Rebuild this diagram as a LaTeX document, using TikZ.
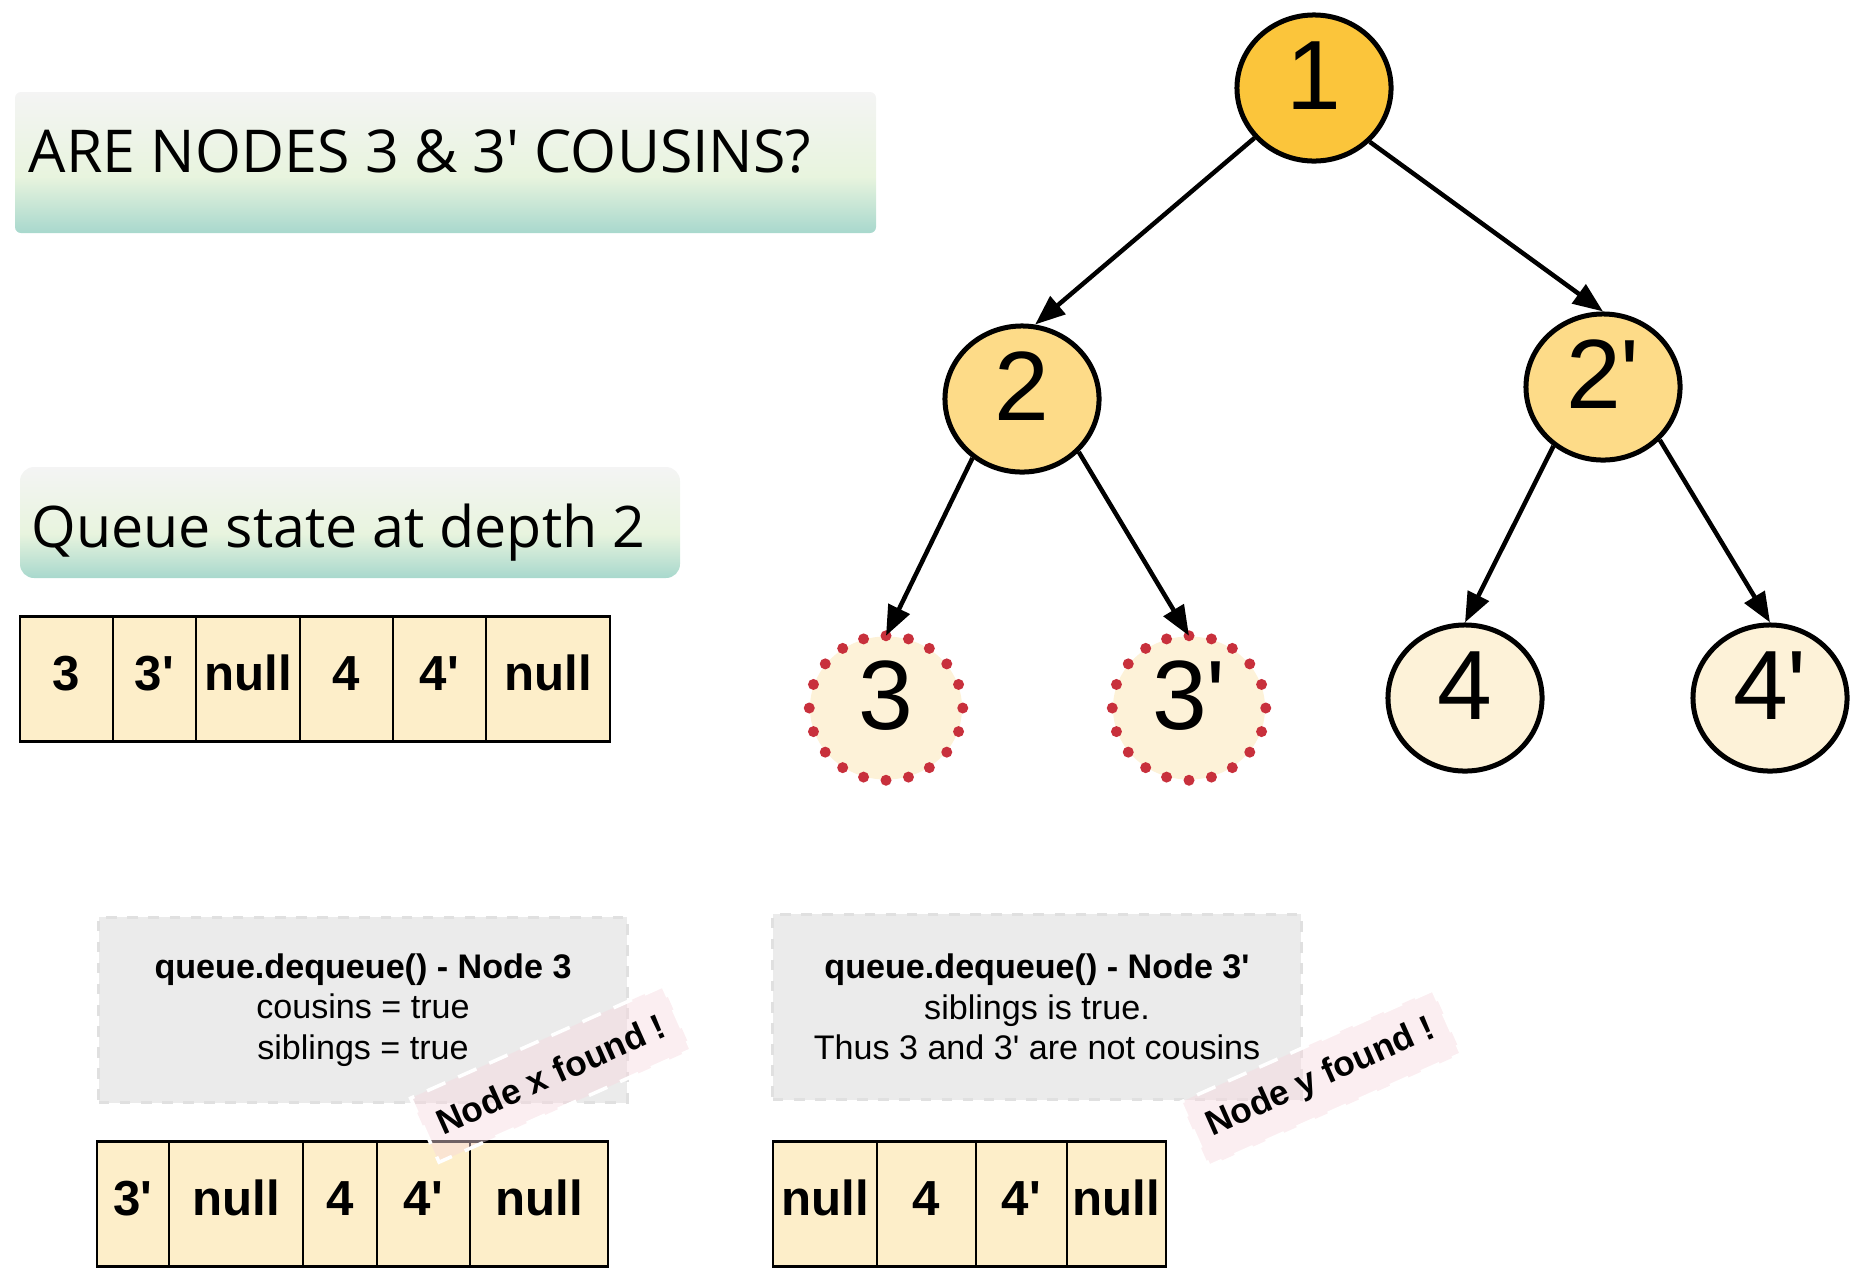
\documentclass[tikz,border=0pt]{standalone}
\usepackage{fontspec}
\newfontfamily\arialfont{Liberation Sans}
\newfontfamily\headfont{Open Sans}
\usepackage{xcolor}
\usetikzlibrary{shapes.geometric, arrows.meta}
\newcommand{\ap}{\textquotesingle}
\definecolor{rootfill}{HTML}{FBC53B}
\definecolor{midfill}{HTML}{FDDB88}
\definecolor{leaffill}{HTML}{FDF2D8}
\definecolor{cellfill}{HTML}{FDEEC9}
\definecolor{dotred}{HTML}{C8303C}
\definecolor{boxgray}{HTML}{EBEBEB}
\definecolor{tagpink}{HTML}{F7D9DF}
\definecolor{headtop}{HTML}{F4F4F4}
\definecolor{headmid}{HTML}{E8F4DE}
\definecolor{headbot}{HTML}{A8D8CD}
\pgfdeclareverticalshading{headshade}{100bp}{color(0bp)=(headbot); color(25bp)=(headbot);
  color(45bp)=(headmid); color(75bp)=(headtop); color(100bp)=(headtop)}

\begin{document}
\begin{tikzpicture}[x=0.01cm, y=-0.01cm, >={Triangle[length=0.3cm, width=0.23cm]},
  tnode/.style={ellipse, draw, line width=0.05cm, minimum width=1.54cm, minimum height=1.46cm,
    inner sep=0pt, text height=0.71cm, text depth=0.29cm, font=\arialfont\fontsize{28}{30}\selectfont},
  picked/.style={ellipse, fill=leaffill, minimum width=1.52cm, minimum height=1.43cm,
    inner sep=0pt, text height=0.71cm, text depth=0.29cm, font=\arialfont\fontsize{28}{30}\selectfont},
  edge/.style={->, line width=0.045cm},
  cell/.style={draw, line width=0.022cm, fill=cellfill, minimum height=1.25cm, inner sep=0pt,
    text height=0.35cm, text depth=0.13cm, font=\arialfont\bfseries\fontsize{14}{16}\selectfont},
  infobox/.style={fill=boxgray, draw=black!12, dashed, line width=0.03cm, minimum width=5.28cm,
    minimum height=1.85cm, align=center, font=\arialfont\fontsize{9.7}{11.5}\selectfont},
  tag/.style={fill=tagpink, fill opacity=0.45, text opacity=1, draw=white, line width=0.035cm,
    dash pattern=on 0.2cm off 0.14cm, rotate=24, minimum width=2.76cm, minimum height=0.7cm,
    inner sep=0pt, font=\arialfont\bfseries\fontsize{10}{12}\selectfont}]
  \useasboundingbox (0,0) rectangle (1864,1281);

  \shade[shading=headshade, rounded corners=0.06cm] (15,92) rectangle (876,233);
  \node[anchor=base west, inner sep=0pt, font=\headfont\fontsize{16.8}{19}\selectfont] (title) at (28,172)
        {ARE NODES 3 \& 3\ap{} COUSINS?};
  \shade[shading=headshade, rounded corners=0.14cm] (20,467) rectangle (680,578);
  \node[anchor=base west, inner sep=0pt, font=\headfont\fontsize{16.3}{19}\selectfont] (depth) at (31,547)
        {Queue state at depth 2};

  \node[tnode, fill=rootfill] (n1) at (1314,88) {1};
  \node[tnode, fill=midfill] (n2) at (1022,399) {2};
  \node[tnode, fill=midfill] (n2p) at (1603,387) {2\ap};
  \node[picked] (n3) at (886,708) {3};
  \node[picked] (n3p) at (1189,708) {3\ap};
  \node[tnode, fill=leaffill] (n4) at (1465,698) {4};
  \node[tnode, fill=leaffill] (n4p) at (1770,698) {4\ap};
  \foreach \n in {n3,n3p}{\foreach \a in {0,18,...,342}{\fill[dotred] (\n.\a) circle (0.055cm);}}

  \draw[edge] (n1.-140) -- (n2.80);
  \draw[edge] (n1.-44) -- (n2p.north);
  \draw[edge] (n2.-130) -- (n3.north);
  \draw[edge] (n2.-43) -- (n3p.north);
  \draw[edge] (n2p.-130) -- (n4.north);
  \draw[edge] (n2p.-43) -- (n4p.north);

  \foreach \xa/\xb/\lbl [count=\i] in {20/113/3, 113/196/3\ap, 196/300/null, 300/393/4, 393/486/4\ap, 486/610/null}
    \node[cell, minimum width={(\xb-\xa)*0.01cm}] (qa\i) at ({(\xa+\xb)/2},679) {\lbl};

  \node[infobox] (deq1) at (363,1010)
        {\textbf{queue.dequeue() - Node 3}\\cousins = true\\siblings = true};
  \node[infobox] (deq2) at (1037,1007)
        {\textbf{queue.dequeue() - Node 3\ap}\\siblings is true.\\Thus 3 and 3\ap{} are not cousins};

  \foreach \xa/\xb/\lbl [count=\i] in {97/169/3\ap, 169/303/null, 303/377/4, 377/470/4\ap, 470/608/null}
    \node[cell, minimum width={(\xb-\xa)*0.01cm}] (qb\i) at ({(\xa+\xb)/2},1204) {\lbl};
  \foreach \xa/\xb/\lbl [count=\i] in {773/877/null, 877/976/4, 976/1067/4\ap, 1067/1166/null}
    \node[cell, minimum width={(\xb-\xa)*0.01cm}] (qc\i) at ({(\xa+\xb)/2},1204) {\lbl};

  \node[tag] (foundx) at (551,1074) {Node x found !};
  \node[tag] (foundy) at (1321,1078) {Node y found !};
\end{tikzpicture}
\end{document}
